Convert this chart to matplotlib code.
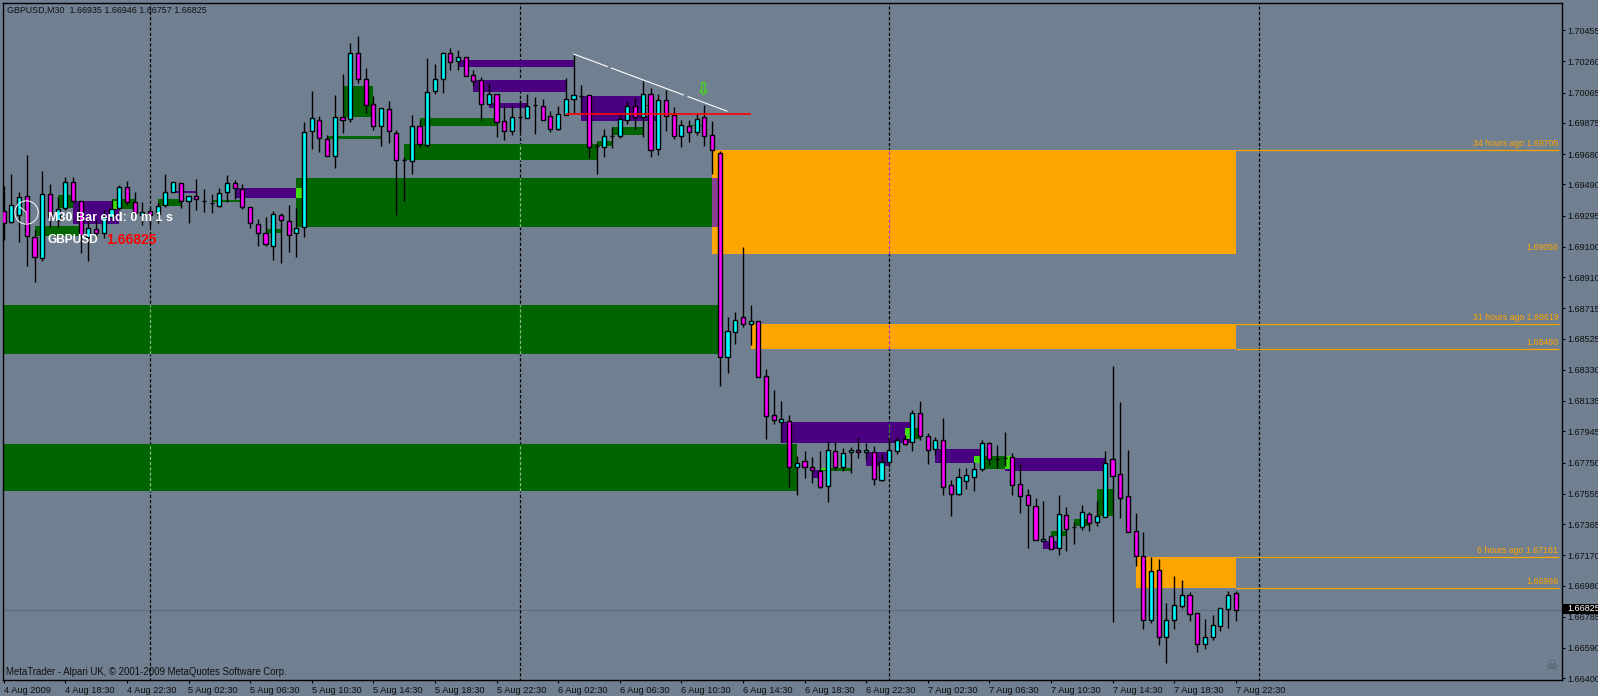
import numpy as np
import matplotlib
matplotlib.use("Agg")
import matplotlib.pyplot as plt
from matplotlib.patches import Rectangle

# ---------- price data, in 1e-5 units (points) ----------
opens = [169327,169254,169300,169421,169164,169028,169433,169268,169341,169508,
169387,169164,169214,169185,169289,169341,169477,169379,169300,169327,
169306,169360,169446,169498,169387,169421,169387,169377,169354,169441,
169502,169464,169352,169245,169185,169103,169302,169260,169185,169227,
169827,169894,169773,169671,169911,169898,170311,170149,169992,169859,
169961,169811,169642,169640,169855,169740,170078,170153,170311,170266,
170286,170174,170142,169996,170057,169886,169827,169911,169909,169986,
169980,169917,169840,169928,170028,170044,170049,169729,169727,169794,
169796,169896,169980,169915,170055,169715,170017,169924,169796,169853,
169821,169911,169798,169686,168408,168565,168658,168619,168633,168289,
168045,168001,168012,167720,167757,167724,167695,167605,167820,167724,
167814,167826,167814,167814,167643,167755,167820,167895,167876,168058,
167914,167832,167889,167608,167556,167637,167662,167708,167871,167773,
167779,167783,167614,167545,167477,167258,167289,167212,167420,167349,
167349,167426,167376,167412,167771,167677,167539,167320,167164,166767,
167076,166661,166763,166855,166920,166807,166617,166655,166724,166832,166935]
highs = [169481,169556,169446,169675,169206,169573,169491,169414,169539,169539,
169387,169268,169268,169331,169393,169487,169510,169443,169381,169352,
169383,169556,169508,169498,169421,169523,169462,169429,169466,169550,
169519,169494,169352,169272,169285,169327,169310,169362,169341,169879,
170076,169917,169800,170051,170182,170376,170420,170220,170044,169967,
170013,169832,169665,169925,169894,170282,170245,170320,170345,170332,
170286,170207,170161,170124,170057,169988,169988,170019,170057,170036,
170026,169948,169982,170155,170301,170113,170049,169748,169838,169852,
169926,170013,170030,170136,170095,170055,170082,169976,169894,169894,
169936,169988,169888,169700,168658,168692,169097,168736,168633,168335,
168204,168135,168045,167791,167822,167784,167822,167885,167878,167839,
167845,167908,167872,167853,167803,167901,167908,167922,168079,168135,
167935,167910,168026,167641,167714,167714,167756,167892,167879,167860,
167942,167808,167746,167585,167529,167508,167289,167547,167472,167379,
167483,167441,167510,167823,168354,168129,167827,167433,167316,167159,
167147,166870,167039,167013,166938,166807,166771,166797,166838,166945,166946]
lows = [169143,169247,169133,168982,168882,169014,169227,169227,169331,169373,
169060,169014,169154,169154,169268,169331,169362,169289,169237,169227,
169247,169352,169446,169343,169252,169331,169318,169314,169352,169383,
169398,169335,169218,169108,169108,169018,169001,169070,169039,169164,
169713,169694,169671,169594,169815,169878,170128,169936,169832,169734,
169750,169300,169387,169556,169725,169725,170059,170063,170207,170207,
170172,170107,169894,169996,169788,169769,169800,169821,169909,169807,
169896,169819,169832,169928,169938,169936,169656,169558,169663,169719,
169784,169871,169838,169788,169663,169675,169826,169775,169725,169757,
169800,169732,169556,168231,168310,168492,168600,168485,168287,167897,
167991,167876,167599,167547,167655,167624,167593,167505,167703,167699,
167686,167778,167770,167609,167636,167720,167803,167860,167822,167891,
167741,167797,167547,167416,167547,167585,167573,167694,167735,167716,
167731,167547,167435,167216,167268,167258,167210,167172,167197,167241,
167328,167322,167353,167412,166753,167404,167314,167103,166709,166746,
166609,166496,166709,166842,166759,166567,166584,166642,166696,166715,166757]
closes = [169247,169364,169414,169168,169035,169433,169289,169337,169508,169387,
169174,169216,169185,169289,169335,169473,169379,169310,169320,169300,
169354,169446,169508,169385,169421,169398,169387,169377,169439,169498,
169466,169348,169247,169185,169116,169308,169268,169172,169220,169821,
169905,169784,169671,169911,169896,170311,170153,169990,169859,169967,
169827,169646,169642,169855,169746,170067,170153,170311,170259,170286,
170172,170140,169996,170057,169884,169827,169911,169911,169980,169986,
169896,169840,169930,170024,170049,170044,169725,169729,169792,169794,
169899,169980,169915,170055,169709,170017,169921,169796,169861,169821,
169899,169796,169709,168408,168571,168640,168619,168633,168287,168043,
168014,168020,167720,167745,167724,167701,167599,167826,167724,167807,
167826,167814,167826,167645,167751,167826,167889,167868,168058,167914,
167830,167889,167599,167556,167658,167671,167708,167871,167775,167773,
167779,167612,167543,167481,167268,167270,167210,167426,167337,167349,
167439,167374,167414,167746,167668,167531,167314,167162,166767,167070,
166661,166763,166857,166920,166805,166617,166657,166732,166838,166920,166825]

# zones: (first bar, last bar, top, bottom) in points
orange_zones = [(92,160.1,169705,169056),(97,160.1,168619,168460),(147,160.1,167161,166966)]
green_zones = [(38,92,169531,169224),(-1,92.9,168736,168430),(-1,103,167866,167572),
(7,9,169425,169343),(4,10,169231,169168),(14,17,169400,169337),(20,23,169400,169356),
(27,31,169393,169381),(34,36,169212,169187),(44,48,170109,169915),(42,49,169794,169775),
(54,64,169907,169856),(52,77,169744,169644),(77,79,169763,169731),(79,83,169850,169800),
(89,91,169863,169856),(82,84,169988,169982),(118,119,167967,167898),(106,110,167716,167698),
(127,130,167791,167710),(142,144,167585,167416),(136,138,167322,167291),(139,141,167397,167353)]
purple_zones = [(9,15,169387,169243),(22,25,169450,169437),(30,38,169469,169406),
(59,74,170270,170226),(61,73,170144,170069),(63,68,170000,169969),(75,83,170044,169888),
(83,85,169919,169888),(101,118,168004,167873),(112,115,167816,167729),(105,106,167704,167654),
(121,127,167835,167748),(130,143,167779,167697),(135,137,167259,167209)]
lime_zones = [(38,38.75,169469,169406),(14,14.8,169387,169337),(117,117.8,167967,167898),
(126,126.8,167791,167748),(130,130.9,167791,167710),(106.1,106.8,167716,167704)]
plum_zones = [(92,92.9,169531,169224)]

level_lines = [169705,168619,168460,167161,166966]
level_labels = [("34 hours ago 1.69705",169705),("1.69056",169056),("31 hours ago 1.68619",168619),
                ("1.68460",168460),("6 hours ago 1.67161",167161),("1.66966",166966)]
separators = [19,67,115,163]
trend_bars = [74,94]
trend_prices = [170307,169948]
red_bars = [73,97]
red_prices = [169930,169930]
bid = 166825

ytick_labels = ["1.70455","1.70260","1.70065","1.69875","1.69680","1.69490","1.69295","1.69100",
"1.68910","1.68715","1.68525","1.68330","1.68135","1.67945","1.67750","1.67555","1.67365",
"1.67170","1.66980","1.66785","1.66590","1.66400"]
xtick_labels = ["4 Aug 2009","4 Aug 18:30","4 Aug 22:30","5 Aug 02:30","5 Aug 06:30","5 Aug 10:30",
"5 Aug 14:30","5 Aug 18:30","5 Aug 22:30","6 Aug 02:30","6 Aug 06:30","6 Aug 10:30","6 Aug 14:30",
"6 Aug 18:30","6 Aug 22:30","7 Aug 02:30","7 Aug 06:30","7 Aug 10:30","7 Aug 14:30","7 Aug 18:30",
"7 Aug 22:30"]

W, H = 1598, 696
BG = "#708090"
FONT = ["Liberation Sans", "DejaVu Sans"]
plt.rcParams["font.family"] = FONT

fig = plt.figure(figsize=(W/100, H/100), dpi=100, facecolor=BG)
L, R, T, B = 2.5, 1561.7, 2.5, 680.3
ax = fig.add_axes([L/W, 1-B/H, (R-L)/W, (B-T)/H], facecolor=BG)

o, h, l, c = [np.array(a)/1e5 for a in (opens, highs, lows, closes)]
x = np.arange(len(o))

def draw_zones(zones, color, z):
    for i0, i1, top, bot in zones:
        ax.add_patch(Rectangle((i0, bot/1e5), i1-i0, (top-bot)/1e5, fc=color, ec="none", zorder=z))

ax.axhline(bid/1e5, color="#5f6b7b", lw=0.8, zorder=0.5)
ax.vlines(separators, 1.6, 1.8, colors="black", lw=0.9, linestyles=[(0, (2.6, 1.6))], zorder=0.7)
draw_zones(orange_zones, "#ffa500", 1)
draw_zones(green_zones, "#006400", 2)
draw_zones(purple_zones, "#4b0082", 3)
draw_zones(lime_zones, "#40e010", 4)
draw_zones(plum_zones, "#8a4090", 4)

# separator dashes change colour over the zones
overlay = [(19,168736,168430,"#7fc07f"),(19,167866,167572,"#7fc07f"),(67,169531,169224,"#7fc07f"),
           (67,168736,168430,"#7fc07f"),(67,167866,167572,"#7fc07f"),(67,169744,169644,"#7fc07f"),
           (115,169705,169056,"#a040c0"),(115,168619,168460,"#a040c0"),(115,168004,167873,"#2f8f2f")]
for xi, t, b, col in overlay:
    ax.vlines(xi, b/1e5, t/1e5, colors=col, lw=0.9, linestyles=[(0, (2.6, 1.6))], zorder=4.5)

for lv in level_lines:
    ax.plot([160.1, 202], [lv/1e5]*2, color="#ffa500", lw=0.9, zorder=1, solid_capstyle="butt")
for txt, lv in level_labels:
    ax.text(201.9, lv/1e5+0.00012, txt, color="#ffa500", fontsize=6.3, ha="right", va="bottom", zorder=5)

ax.vlines(x, l, h, colors="black", lw=1.0, zorder=5)
colors = ["#00ffff" if cl >= op else "#ff00ff" for op, cl in zip(o, c)]
ax.bar(x, c-o, bottom=o, width=0.52, color=colors, edgecolor="black", linewidth=1.0, zorder=6)

ax.plot(red_bars, np.array(red_prices)/1e5, color="#ff0000", lw=1.2, zorder=7, solid_capstyle="butt")
ax.plot(trend_bars, np.array(trend_prices)/1e5, color="white", lw=0.8, zorder=7,
        linestyle=(0, (33, 3, 70, 3.5, 46, 1000)))

ax.set_xlim((L-3.7)/7.7, (R-3.7)/7.7)
ax.set_ylim(1.66387, 1.70629)
ax.set_xticks(np.arange(0, 161, 8))
ax.set_xticklabels(xtick_labels, fontsize=6.7, ha="left", color="#101010")
ax.set_yticks([float(v) for v in ytick_labels])
ax.set_yticklabels(ytick_labels, fontsize=6.5, color="#101010")
ax.yaxis.tick_right()
ax.tick_params(axis="y", length=2.5, width=0.8, pad=1.5)
ax.tick_params(axis="x", length=2.5, width=0.8, pad=1.5)
for s in ax.spines.values():
    s.set_linewidth(1.0)
    s.set_color("black")

# overlay in pixel coordinates for on-screen labels
ov = fig.add_axes([0, 0, 1, 1], facecolor="none", zorder=10)
ov.set_xlim(0, W); ov.set_ylim(H, 0); ov.axis("off")
ov.text(7, 10.5, "GBPUSD,M30  1.66935 1.66946 1.66757 1.66825", fontsize=6.4, color="#101010", va="center")
ov.text(6, 672, "MetaTrader - Alpari UK, \u00a9 2001-2009 MetaQuotes Software Corp.", fontsize=6.9, color="#101010", va="center")
ov.text(48, 218, "M30 Bar end: 0 m 1 s", fontsize=9, fontweight="bold", color="white", va="center")
ov.text(48, 240, "GBPUSD", fontsize=8.6, fontweight="bold", color="white", va="center")
ov.text(106, 240, "1.66825", fontsize=10, fontweight="bold", color="#ff0000", va="center")
ov.plot([26], [212], marker="o", ms=16.8, mfc="none", mec="white", mew=0.7)
ov.plot([20, 26, 26], [207, 212, 223], color="white", lw=0.7)
ov.text(703, 90, "\u21e9", color="#40e010", fontsize=13, ha="center", va="center", family="DejaVu Sans", fontweight="bold")
ov.text(1551, 666, "\u2620", color="#4f5a68", fontsize=10, ha="center", va="center", family="DejaVu Sans")
ov.add_patch(Rectangle((1563, 603.5), 35, 10, fc="black", ec="none"))
ov.text(1567, 608.5, "1.66825", color="white", fontsize=6.5, va="center")

fig.savefig("out.png", dpi=100, facecolor=BG)
